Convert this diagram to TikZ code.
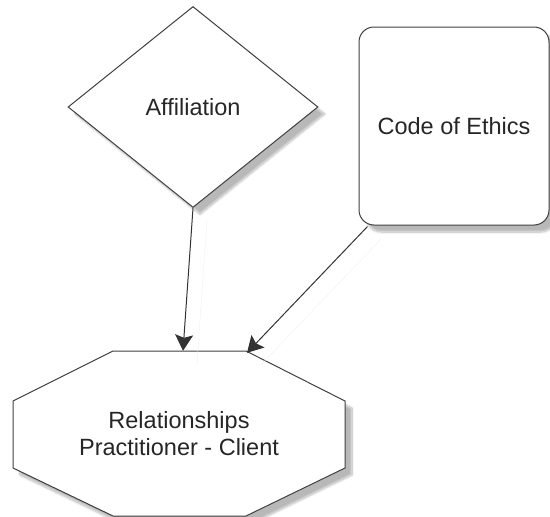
\documentclass[tikz,border=0pt]{standalone}
\usepackage{fontspec}
\setmainfont{Liberation Sans}
\usetikzlibrary{arrows.meta,shapes.geometric,shadows.blur}

\begin{document}
\begin{tikzpicture}[x=1pt,y=-1pt]
\tikzstyle{every node}=[font=\fontsize{23.5}{27.5}\selectfont, text=black!85]
\tikzstyle{block}=[draw=black!75, line width=1pt, fill=white, blur shadow={shadow xshift=7pt, shadow yshift=-7pt, shadow opacity=28, shadow blur steps=10}]
\tikzstyle{link}=[draw=black!80, line width=1pt, -{Stealth[length=16pt,width=18pt,inset=3pt]}, preaction={draw=black!6, -, transform canvas={xshift=14pt,yshift=-12pt}}]

 \useasboundingbox (0,0) rectangle (550,517);

 \node[block, diamond, minimum width=250pt, minimum height=201pt, inner sep=0pt] (aff) at (193,107) {Affiliation};
 \node[block, rectangle, rounded corners=15pt, minimum width=190pt, minimum height=198pt] (ethics) at (454,126) {Code of Ethics};
 % octagon outline, text node on top
 \draw[block] (113,351) -- (246,351) -- (345,401) -- (345,468) -- (246,516) -- (113,516) -- (13,468) -- (13,401) -- cycle;
 \node[minimum width=332pt, minimum height=165pt, align=center] (rel) at (179,433.5) {Relationships\\Practitioner - Client};

 \draw[link] (aff.south) -- ([xshift=4pt]rel.north);
 \draw[link] ([xshift=9pt,yshift=-1pt]ethics.south west) -- ([xshift=68pt,yshift=-2pt]rel.north);
\end{tikzpicture}
\end{document}
